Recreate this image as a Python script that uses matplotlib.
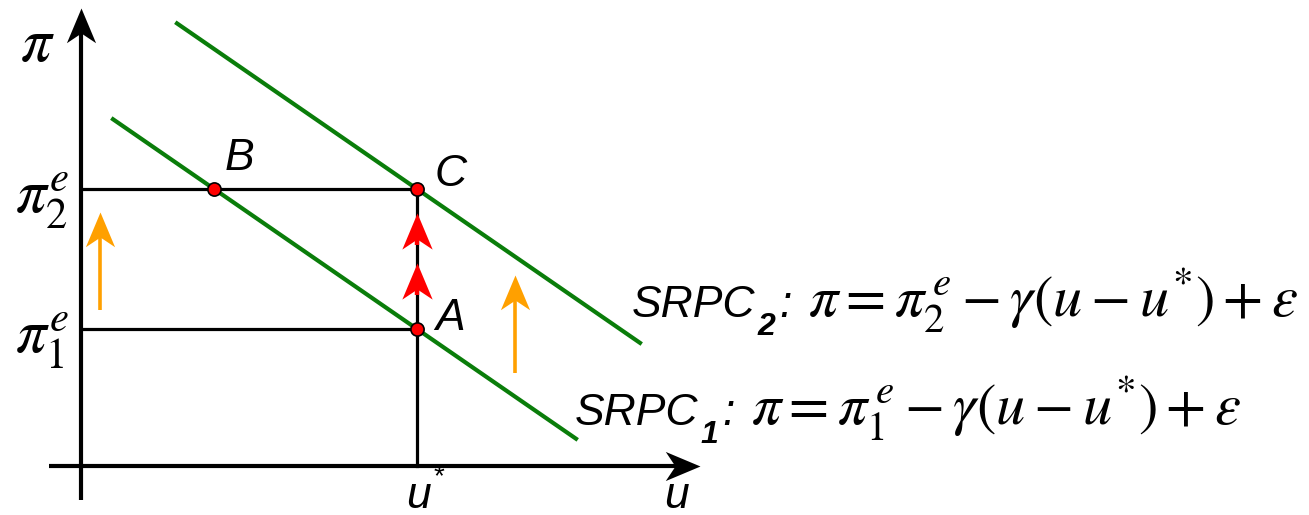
import numpy as np
import matplotlib
matplotlib.use("Agg")
import matplotlib.pyplot as plt
from matplotlib.path import Path
from matplotlib.transforms import Affine2D

plt.rcParams['mathtext.fontset'] = 'stix'

# diagram units: origin where the two axes cross, 1 unit ~ 1 px
u_star = 336
pi_e = [137, 277]                 # expected inflation for SRPC1, SRPC2
gamma = 0.69
curve_u = [[32, 495], [96, 559]]  # u range drawn for each SRPC
u_axis = [-32, 619]
pi_axis = [-34, 458]
shift_u = [19, 434]               # orange "expectations rise" arrows
shift_from = [156, 93]
shift_len = 98
move_tips = [253, 203]            # red arrows going from A up to C
move_len = 32

sans = 'Liberation Sans'


def srpc(u, pe):
    return pe - gamma * (np.asarray(u, dtype=float) - u_star)


def head(angle):
    # stealth style arrow head, tip at the origin, pointing up before rotation
    verts = [(0, 0), (-0.42, -1), (0, -0.72), (0.42, -1), (0, 0)]
    codes = [Path.MOVETO, Path.LINETO, Path.LINETO, Path.LINETO, Path.CLOSEPOLY]
    p = Path(verts, codes)
    return p.transformed(Affine2D().rotate_deg(angle))


fig = plt.figure(figsize=(13.09, 5.15), dpi=100)
ax = fig.add_axes([0, 0, 1, 1])
ax.set_xlim(-81, 1228)
ax.set_ylim(-49, 466)
ax.axis('off')
renderer = fig.canvas.get_renderer()


def right_edge(t):
    bb = t.get_window_extent(renderer)
    return ax.transData.inverted().transform((bb.x1, bb.y0))[0]


# axes
ax.plot([0, 0], [pi_axis[0], pi_axis[1] - 12], color='black', lw=3, solid_capstyle='butt')
ax.plot([0], [pi_axis[1]], marker=head(0), ms=50, color='black', mec='none')
ax.plot([u_axis[0], u_axis[1] - 12], [0, 0], color='black', lw=3, solid_capstyle='butt')
ax.plot([u_axis[1]], [0], marker=head(-90), ms=50, color='black', mec='none')

# guide lines
ax.plot([0, u_star, u_star], [pi_e[1], pi_e[1], 0], color='black', lw=2.3)
ax.plot([0, u_star], [pi_e[0], pi_e[0]], color='black', lw=2.3)

# the two short run Phillips curves
for rng, pe in zip(curve_u, pi_e):
    ax.plot(rng, srpc(rng, pe), color='#0a7d0a', lw=3, zorder=3)

# orange arrows
for u0, p0 in zip(shift_u, shift_from):
    ax.plot([u0, u0], [p0, p0 + shift_len - 10], color='#ffa000', lw=2.6, solid_capstyle='butt')
    ax.plot([u0], [p0 + shift_len], marker=head(0), ms=50, color='#ffa000', mec='none')

# red arrows on the vertical line
for tip in move_tips:
    ax.plot([u_star, u_star], [tip - move_len, tip - 10], color='red', lw=3.2,
            solid_capstyle='butt', zorder=4)
    ax.plot([u_star], [tip], marker=head(0), ms=52, color='red', mec='none', zorder=4)

# points
b_u = u_star - (pi_e[1] - pi_e[0]) / gamma
pts_u = [u_star, b_u, u_star]
pts_pi = [pi_e[0], pi_e[1], pi_e[1]]
ax.plot(pts_u, pts_pi, 'o', ms=9.5, mfc='red', mec='black', mew=1.2, zorder=5, ls='none')

# labels
ax.text(-44, 422, r'$\pi$', fontsize=44, ha='center', va='center')
ax.text(-12, pi_e[1] - 12, r'$\pi_2^e$', fontsize=44, ha='right', va='center')
ax.text(-12, pi_e[0] - 12, r'$\pi_1^e$', fontsize=44, ha='right', va='center')
lab = dict(family=sans, style='italic', fontsize=32, ha='center', va='center')
ax.text(b_u + 25, pi_e[1] + 30, 'B', **lab)
ax.text(u_star + 34, pi_e[1] + 15, 'C', **lab)
ax.text(u_star + 33, pi_e[0] + 10, 'A', **lab)
ax.text(u_star + 2, -30, 'u', family=sans, style='italic', fontsize=32,
        ha='center', va='center')
ax.text(u_star + 22, -11, '*', family=sans, fontsize=20, ha='center', va='center')
ax.text(u_axis[1] - 24, -30, 'u', family=sans, style='italic', fontsize=32,
        ha='center', va='center')

# equations
eqs = [(494, 41, '1', r'$\pi=\pi_1^{\,e}-\gamma\left(u-u^{*}\right)+\varepsilon$'),
       (551, 149, '2', r'$\pi=\pi_2^{\,e}-\gamma\left(u-u^{*}\right)+\varepsilon$')]
for x0, y0, sub, eq in eqs:
    t = ax.text(x0, y0, 'SRPC', family=sans, style='italic', fontsize=32,
                ha='left', va='baseline')
    x1 = right_edge(t) + 2
    t = ax.text(x1, y0 - 18, sub, family=sans, style='italic', weight='bold',
                fontsize=23, ha='left', va='baseline')
    x2 = right_edge(t) + 4
    t = ax.text(x2, y0, ':', family=sans, style='italic', fontsize=32,
                ha='left', va='baseline')
    x3 = right_edge(t) + 16
    ax.text(x3, y0, eq, fontsize=42, ha='left', va='baseline')

fig.savefig('out.png', dpi=100)
